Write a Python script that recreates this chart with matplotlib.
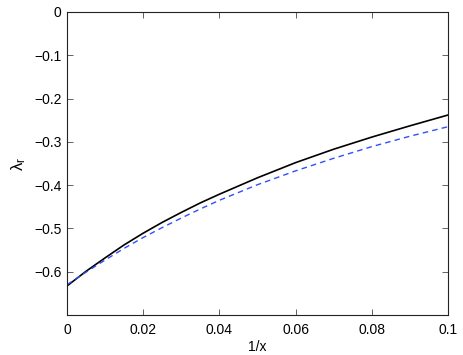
import numpy as np
import matplotlib
matplotlib.use('Agg')
import matplotlib.pyplot as plt

# values
inv_x = [0.0, 0.005, 0.01, 0.015, 0.02, 0.025, 0.03, 0.035, 0.04, 0.05,
         0.06, 0.07, 0.08, 0.09, 0.1]
lam_solid = [-0.633, -0.599, -0.568, -0.538, -0.511, -0.486, -0.463, -0.441,
             -0.421, -0.383, -0.348, -0.317, -0.289, -0.263, -0.238]
lam_dashed = [-0.630, -0.601, -0.573, -0.546, -0.521, -0.498, -0.476, -0.455,
              -0.435, -0.399, -0.367, -0.338, -0.311, -0.287, -0.265]

xticks = [0, 0.02, 0.04, 0.06, 0.08, 0.1]
xticklabels = ['0', '0.02', '0.04', '0.06', '0.08', '0.1']
yticks = [0, -0.1, -0.2, -0.3, -0.4, -0.5, -0.6]
yticklabels = ['0', '\u22120.1', '\u22120.2', '\u22120.3', '\u22120.4', '\u22120.5', '\u22120.6']

plt.rcParams['font.family'] = ['Liberation Sans', 'DejaVu Sans']
plt.rcParams['mathtext.fontset'] = 'custom'
plt.rcParams['mathtext.rm'] = 'Liberation Sans'

fig = plt.figure(figsize=(4.63, 3.55), dpi=100)
ax = fig.add_axes([0.1447, 0.1127, 0.8229, 0.8535])

ax.plot(inv_x, lam_solid, 'k-', lw=1.2)
ax.plot(inv_x, lam_dashed, '--', color='#2f4fff', lw=1.0, dashes=(4, 3))

ax.set_xlim(0, 0.1)
ax.set_ylim(-0.7, 0)
ax.set_xticks(xticks)
ax.set_xticklabels(xticklabels)
ax.set_yticks(yticks)
ax.set_yticklabels(yticklabels)
ax.tick_params(direction='in', length=4, width=0.5, top=True, right=True,
               labelsize=10, colors='#222222', labelcolor='black')
ax.tick_params(axis='y', pad=4)
ax.tick_params(axis='x', pad=6)
for s in ax.spines.values():
    s.set_linewidth(0.8)
    s.set_color('#222222')

ax.set_xlabel('1/x', fontsize=10, labelpad=2)
ax.set_ylabel(r'$\mathregular{\lambda_r}$', fontsize=12, labelpad=4)

fig.savefig('out.png', dpi=100)
